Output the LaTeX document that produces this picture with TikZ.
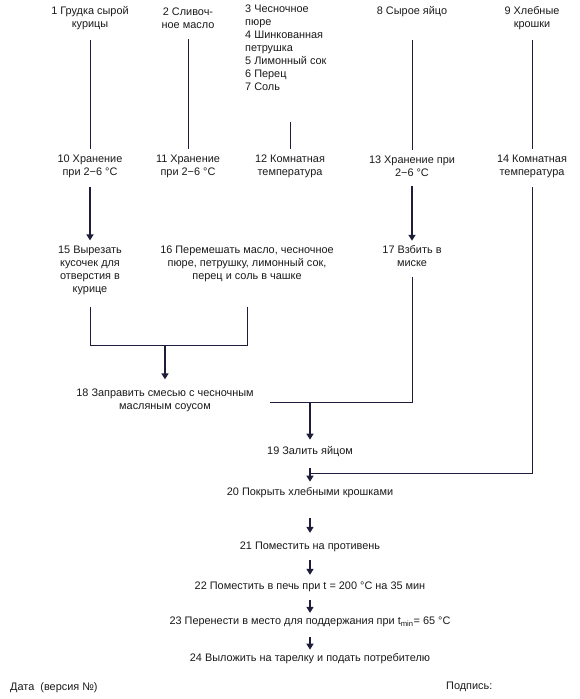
\documentclass[tikz,border=0pt]{standalone}
\usepackage{fontspec}
\setmainfont{Liberation Sans}
\usetikzlibrary{arrows.meta}
\definecolor{linecol}{HTML}{1E1E3C}
\definecolor{textcol}{HTML}{1A1A1A}
\tikzset{
  lbl/.style={inner sep=0pt, align=center, text=textcol,
    font=\fontsize{10.9}{13}\selectfont},
  thinlink/.style={draw=linecol, line width=0.9pt},
  thicklink/.style={draw=linecol, line width=2.2pt,
    -{Triangle[width=7pt,length=6pt]}},
}
\begin{document}
\begin{tikzpicture}[x=1pt,y=-1pt]
\useasboundingbox (0,0) rectangle (579,699);

\node[lbl] (n1) at (90,18.5) {1 Грудка сырой\\курицы};
\node[lbl] (n2) at (188,18.5) {2 Сливоч-\\ное масло};
\node[lbl, align=left, anchor=north west] (n3) at (245,5)
  {3 Чесночное\\пюре\\4 Шинкованная\\петрушка\\5 Лимонный сок\\6 Перец\\7 Соль};
\node[lbl] (n8) at (412,12) {8 Сырое яйцо};
\node[lbl] (n9) at (532,18.5) {9 Хлебные\\крошки};

\node[lbl] (n10) at (90,166.5) {10 Хранение\\при 2−6 °C};
\node[lbl] (n11) at (188,166.5) {11 Хранение\\при 2−6 °C};
\node[lbl] (n12) at (290,166.5) {12 Комнатная\\температура};
\node[lbl] (n13) at (412,166.5) {13 Хранение при\\2−6 °C};
\node[lbl] (n14) at (532,166.5) {14 Комнатная\\температура};

\node[lbl] (n15) at (90,270) {15 Вырезать\\кусочек для\\отверстия в\\курице};
\node[lbl] (n16) at (247,263.5) {16 Перемешать масло, чесночное\\пюре, петрушку, лимонный сок,\\перец и соль в чашке};
\node[lbl] (n17) at (412,256.5) {17 Взбить в\\миске};

\node[lbl] (n18) at (165,400) {18 Заправить смесью с чесночным\\масляным соусом};
\node[lbl] (n19) at (310,452) {19 Залить яйцом};
\node[lbl] (n20) at (310,493) {20 Покрыть хлебными крошками};
\node[lbl] (n21) at (310,547) {21 Поместить на противень};
\node[lbl] (n22) at (310,587) {22 Поместить в печь при t = 200 °C на 35 мин};
\node[lbl] (n23) at (310,622) {23 Перенести в место для поддержания при t\textsubscript{min}= 65 °C};
\node[lbl] (n24) at (310,659) {24 Выложить на тарелку и подать потребителю};

\node[lbl, anchor=west] (date) at (10,688) {Дата\ \ (версия №)};
\node[lbl, anchor=west] (sign) at (446,687) {Подпись:};

\coordinate (j1) at (165,345);
\coordinate (j2) at (310,402);
\coordinate (e18) at (270,402);
\coordinate (j3) at (310,473);

\draw[thinlink, shorten <=10pt, shorten >=6pt] (n1) -- (n10);
\draw[thinlink, shorten <=10pt, shorten >=6pt] (n2) -- (n11);
\draw[thinlink, shorten <=6pt, shorten >=31pt] (n12.north) -- (n12.north |- n3.south);
\draw[thinlink, shorten <=23pt, shorten >=6pt] (n8) -- (n13);
\draw[thinlink, shorten <=10pt, shorten >=6pt] (n9) -- (n14);

\draw[thicklink, shorten <=9pt, shorten >=5pt] (n10) -- (n15);
\draw[thicklink, shorten <=9pt, shorten >=5pt] (n13) -- (n17);

\draw[thinlink, shorten <=12pt] (n15.south) |- (j1);
\draw[thinlink, shorten <=25pt] (n16.south) |- (j1);
\draw[thicklink, shorten >=9pt] (j1) -- (n18);

\draw[thinlink, shorten <=10pt] (n17.south) |- (e18);
\draw[thicklink, shorten >=7pt] (j2) -- (n19);

\draw[thinlink, shorten <=9pt] (n14.south) |- (j3);
\draw[thicklink, shorten <=11pt, shorten >=6pt] (n19) -- (n20);
\draw[thicklink, shorten <=20pt, shorten >=9pt] (n20) -- (n21);
\draw[thicklink, shorten <=8pt, shorten >=7pt] (n21) -- (n22);
\draw[thicklink, shorten <=8pt, shorten >=4pt] (n22) -- (n23);
\draw[thicklink, shorten <=10pt, shorten >=4pt] (n23) -- (n24);
\end{tikzpicture}
\end{document}
